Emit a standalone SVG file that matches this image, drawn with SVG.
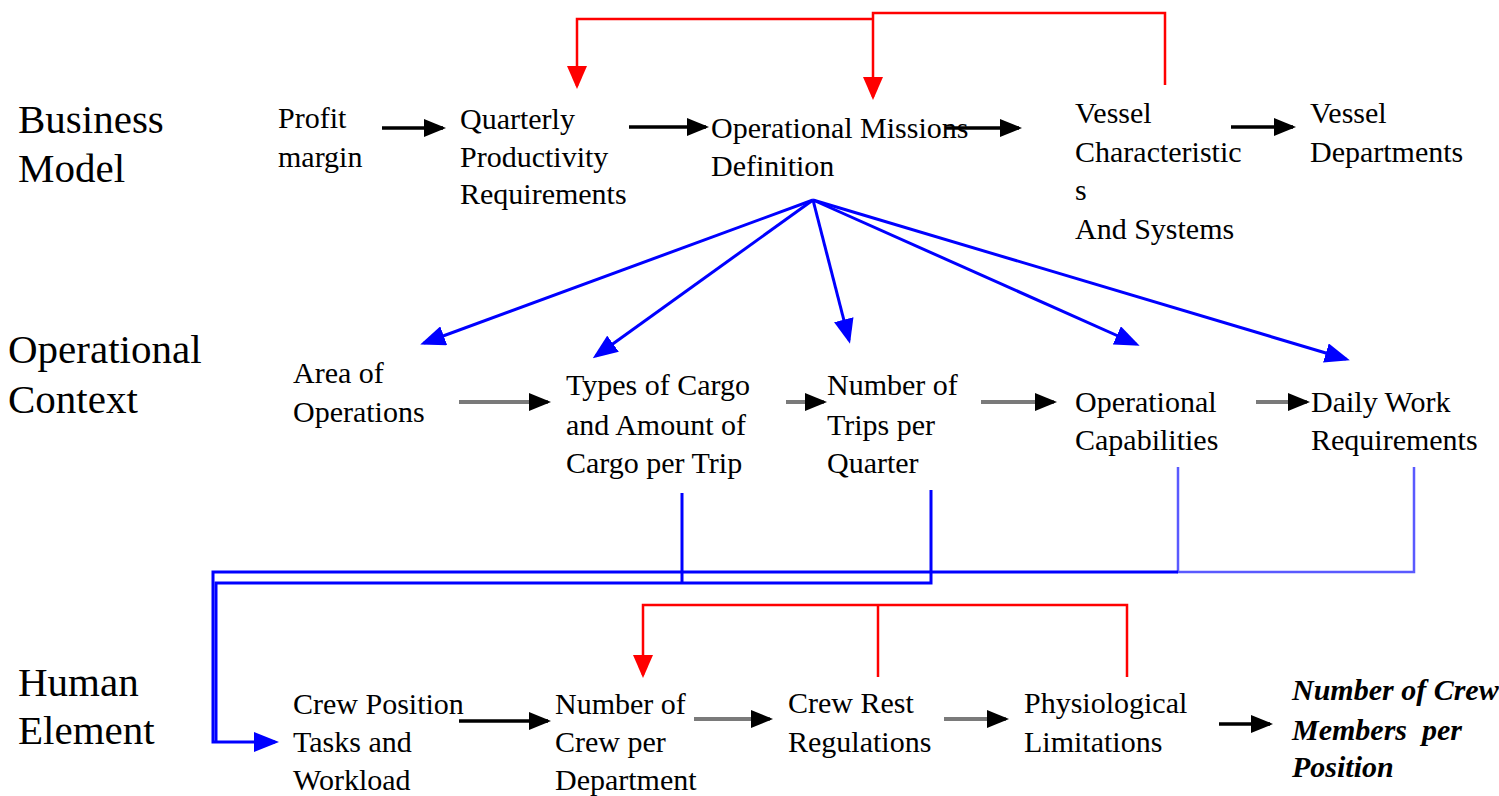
<svg xmlns="http://www.w3.org/2000/svg" width="1499" height="796" viewBox="0 0 1499 796">
<style>
.t{font-family:"Liberation Serif","Times New Roman",serif;font-size:30px;fill:#000}
.lbl{font-size:41px}
.bi{font-weight:bold;font-style:italic;white-space:pre}
.blk{stroke:#000;stroke-width:3.5;fill:none}
.gry{stroke:#7a7a7a;stroke-width:4;fill:none}
.red{stroke:#ff0000;stroke-width:2.5;fill:none}
.blu{stroke:#0000ff;stroke-width:3;fill:none}
.blu2{stroke:#5a5aff;stroke-width:2.5;fill:none}
</style>
<defs>
<marker id="ab" markerUnits="userSpaceOnUse" viewBox="0 0 22 18" markerWidth="22" markerHeight="18" refX="19" refY="9" orient="auto"><path d="M0,0 L22,9 L0,18 z" fill="#000"/></marker>
<marker id="ar" markerUnits="userSpaceOnUse" viewBox="0 0 23 20" markerWidth="23" markerHeight="20" refX="20" refY="10" orient="auto"><path d="M0,0 L23,10 L0,20 z" fill="#ff0000"/></marker>
<marker id="au" markerUnits="userSpaceOnUse" viewBox="0 0 25 20" markerWidth="25" markerHeight="20" refX="21" refY="10" orient="auto"><path d="M0,0 L25,10 L0,20 z" fill="#0000ff"/></marker>
</defs>

<g id="labels">
<text id="lbl-business" class="t lbl"><tspan x="18" y="133">Business</tspan><tspan x="18" y="182">Model</tspan></text>
<text id="lbl-operational" class="t lbl"><tspan x="8" y="363">Operational</tspan><tspan x="8" y="413">Context</tspan></text>
<text id="lbl-human" class="t lbl"><tspan x="18" y="696">Human</tspan><tspan x="18" y="744">Element</tspan></text>
</g>

<g id="connectors">
<!-- red top feedback -->
<path class="red" d="M1165,85 V13 H873 V97" marker-end="url(#ar)"/>
<path class="red" d="M873,19 H577 V86" marker-end="url(#ar)"/>
<!-- row 1 arrows -->
<path class="blk" d="M382,128 H443" marker-end="url(#ab)"/>
<path class="blk" d="M629,127 H706" marker-end="url(#ab)"/>
<path class="blk" d="M945,128 H1019" marker-end="url(#ab)"/>
<path class="blk" d="M1231,127 H1293" marker-end="url(#ab)"/>
<!-- blue fan -->
<path class="blu" d="M813,200 L424,343" marker-end="url(#au)"/>
<path class="blu" d="M813,200 L596,356" marker-end="url(#au)"/>
<path class="blu" d="M813,200 L849,340" marker-end="url(#au)"/>
<path class="blu" d="M813,200 L1136,344" marker-end="url(#au)"/>
<path class="blu" d="M813,200 L1346,359" marker-end="url(#au)"/>
<!-- row 2 arrows -->
<path class="gry" d="M459,402 H548" marker-end="url(#ab)"/>
<path class="gry" d="M786,402 H824" marker-end="url(#ab)"/>
<path class="gry" d="M981,402 H1054" marker-end="url(#ab)"/>
<path class="gry" d="M1256,402 H1307" marker-end="url(#ab)"/>
<!-- blue collectors -->
<path class="blu2" d="M1178,467 V572 H1414 V467"/>
<path class="blu" d="M1178,572 H213 V742 H275" marker-end="url(#au)"/>
<path class="blu" d="M682,493 V583"/>
<path class="blu" d="M931,490 V583 H216 V742"/>
<!-- red bottom feedback -->
<path class="red" d="M1127,677 V605 H643 V675" marker-end="url(#ar)"/>
<path class="red" d="M878,605 V677"/>
<!-- row 3 arrows -->
<path class="blk" d="M459,721 H548" marker-end="url(#ab)"/>
<path class="gry" d="M694,719 H770" marker-end="url(#ab)"/>
<path class="gry" d="M944,719 H1006" marker-end="url(#ab)"/>
<path class="blk" d="M1219,724 H1270" marker-end="url(#ab)"/>
</g>

<g id="profit-margin"><text class="t"><tspan x="278" y="128">Profit</tspan><tspan x="278" y="167">margin</tspan></text></g>
<g id="quarterly-productivity"><text class="t"><tspan x="460" y="129">Quarterly</tspan><tspan x="460" y="167">Productivity</tspan><tspan x="460" y="204">Requirements</tspan></text></g>
<g id="operational-missions"><text class="t"><tspan x="711" y="138">Operational Missions</tspan><tspan x="711" y="176">Definition</tspan></text></g>
<g id="vessel-characteristics"><text class="t"><tspan x="1075" y="123">Vessel</tspan><tspan x="1075" y="162">Characteristic</tspan><tspan x="1075" y="200">s</tspan><tspan x="1075" y="239">And Systems</tspan></text></g>
<g id="vessel-departments"><text class="t"><tspan x="1310" y="123">Vessel</tspan><tspan x="1310" y="162">Departments</tspan></text></g>

<g id="area-of-operations"><text class="t"><tspan x="293" y="383">Area of</tspan><tspan x="293" y="422">Operations</tspan></text></g>
<g id="types-of-cargo"><text class="t"><tspan x="566" y="395">Types of Cargo</tspan><tspan x="566" y="435">and Amount of</tspan><tspan x="566" y="473">Cargo per Trip</tspan></text></g>
<g id="number-of-trips"><text class="t"><tspan x="827" y="395">Number of</tspan><tspan x="827" y="435">Trips per</tspan><tspan x="827" y="473">Quarter</tspan></text></g>
<g id="operational-capabilities"><text class="t"><tspan x="1075" y="412">Operational</tspan><tspan x="1075" y="450">Capabilities</tspan></text></g>
<g id="daily-work"><text class="t"><tspan x="1311" y="412">Daily Work</tspan><tspan x="1311" y="450">Requirements</tspan></text></g>

<g id="crew-position"><text class="t"><tspan x="293" y="714">Crew Position</tspan><tspan x="293" y="752">Tasks and</tspan><tspan x="293" y="790">Workload</tspan></text></g>
<g id="number-of-crew"><text class="t"><tspan x="555" y="714">Number of</tspan><tspan x="555" y="752">Crew per</tspan><tspan x="555" y="790">Department</tspan></text></g>
<g id="crew-rest"><text class="t"><tspan x="788" y="713">Crew Rest</tspan><tspan x="788" y="752">Regulations</tspan></text></g>
<g id="physiological"><text class="t"><tspan x="1024" y="713">Physiological</tspan><tspan x="1024" y="752">Limitations</tspan></text></g>
<g id="crew-members-per-position"><text class="t bi"><tspan x="1292" y="700">Number of Crew</tspan><tspan x="1292" y="740">Members  per</tspan><tspan x="1292" y="777">Position</tspan></text></g>
</svg>
